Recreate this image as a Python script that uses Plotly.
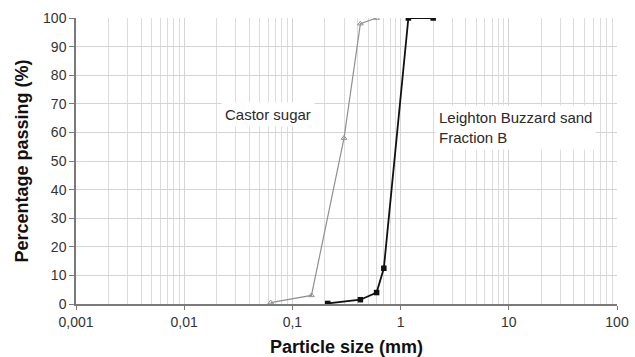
import plotly.graph_objects as go

# Grading curves: particle size (mm) vs. percentage passing (%)
castor_size = [0.063, 0.15, 0.30, 0.425, 0.60]
castor_pass = [0.5, 3.0, 58.0, 98.0, 100.0]

sand_size = [0.212, 0.425, 0.60, 0.70, 1.18, 2.0]
sand_pass = [0.2, 1.5, 4.0, 12.5, 100.0, 100.0]

x_tick_vals = [0.001, 0.01, 0.1, 1, 10, 100]
x_tick_text = ["0,001", "0,01", "0,1", "1", "10", "100"]
y_tick_vals = [0, 10, 20, 30, 40, 50, 60, 70, 80, 90, 100]

minor_vals = [m * 10.0 ** e for e in range(-3, 2) for m in range(2, 10)]

FONT = "Liberation Sans, Arial, sans-serif"

fig = go.Figure()
fig.add_trace(go.Scatter(
    x=castor_size, y=castor_pass, mode="lines+markers", name="Castor sugar",
    line=dict(color="#909090", width=1.2),
    marker=dict(symbol="triangle-up-open", size=5, color="#909090",
                line=dict(width=1)),
))
fig.add_trace(go.Scatter(
    x=sand_size, y=sand_pass, mode="lines+markers",
    name="Leighton Buzzard sand Fraction B",
    line=dict(color="#111111", width=1.8),
    marker=dict(symbol="square", size=5.5, color="#111111"),
))

fig.add_annotation(
    text="Castor sugar", xref="paper", yref="y", x=(221 - 76) / 541, y=66.4,
    xanchor="left", yanchor="middle", showarrow=False, align="left",
    font=dict(family=FONT, size=15, color="#2a2a2a"),
    bgcolor="white", borderpad=3,
)
fig.add_annotation(
    text="Leighton Buzzard sand<br>Fraction B", xref="paper", yref="y",
    x=(435 - 76) / 541, y=61.8, xanchor="left", yanchor="middle",
    showarrow=False, align="left",
    font=dict(family=FONT, size=15, color="#2a2a2a"),
    bgcolor="white", borderpad=3,
)

fig.update_layout(
    width=635, height=357,
    margin=dict(l=76, r=18, t=18, b=53),
    paper_bgcolor="white", plot_bgcolor="white",
    showlegend=False,
    font=dict(family=FONT, size=14, color="#333333"),
    xaxis=dict(
        type="log", range=[-3, 2],
        tickvals=x_tick_vals, ticktext=x_tick_text,
        showgrid=True, gridcolor="#d4d4d4", gridwidth=1,
        minor=dict(tickvals=minor_vals, showgrid=True,
                   gridcolor="#dcdcdc", gridwidth=1, ticks=""),
        showline=True, linecolor="#7a7a7a", linewidth=1.5,
        ticks="outside", ticklen=4, tickcolor="#7a7a7a",
        tickfont=dict(family=FONT, size=14, color="#333333"),
        title=dict(text="<b>Particle size (mm)</b>", standoff=12,
                   font=dict(family=FONT, size=18, color="#111111")),
        zeroline=False, automargin=False,
    ),
    yaxis=dict(
        range=[0, 100], tickvals=y_tick_vals,
        showgrid=True, gridcolor="#d4d4d4", gridwidth=1,
        showline=True, linecolor="#7a7a7a", linewidth=1.5,
        ticks="outside", ticklen=5, tickcolor="#7a7a7a",
        tickfont=dict(family=FONT, size=14, color="#333333"),
        title=dict(text="<b>Percentage passing (%)</b>", standoff=10,
                   font=dict(family=FONT, size=18, color="#111111")),
        zeroline=False, automargin=False,
    ),
)

fig.write_html("out.html")
